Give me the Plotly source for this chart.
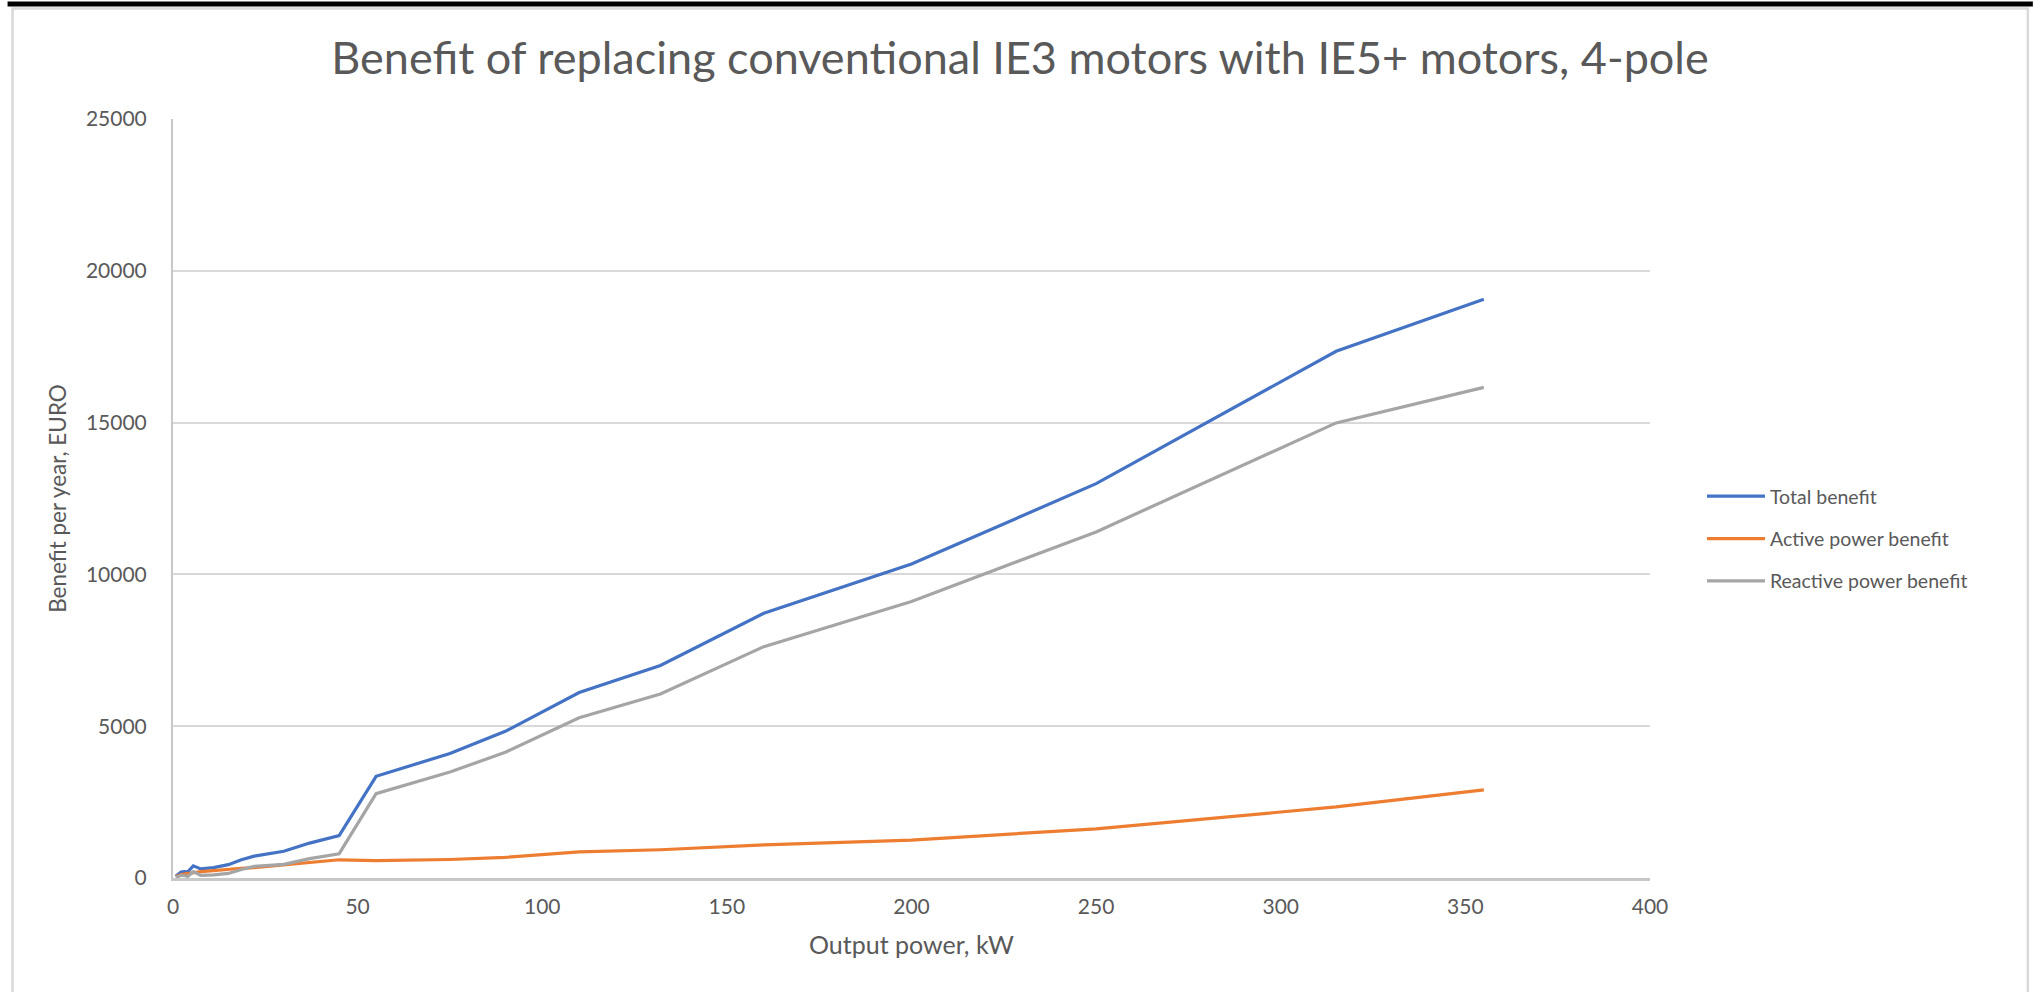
import plotly.graph_objects as go

# ---- data ----
power_kw = [0.75, 1.1, 1.5, 2.2, 3, 4, 5.5, 7.5, 11, 15, 18.5, 22, 30, 37, 45,
            55, 75, 90, 110, 132, 160, 200, 250, 315, 355]
total_benefit = [60, 100, 140, 200, 210, 200, 400, 300, 340, 440, 600, 720, 880, 1150, 1400,
                 3350, 4100, 4830, 6110, 7000, 8720, 10340, 12990, 17350, 19060]
active_benefit = [40, 60, 80, 110, 130, 150, 190, 210, 240, 290, 320, 340, 430, 510, 600,
                  570, 610, 680, 860, 930, 1090, 1250, 1620, 2340, 2900]
reactive_benefit = [20, 40, 60, 90, 80, 50, 210, 90, 100, 150, 280, 380, 450, 640, 800,
                    2780, 3490, 4140, 5280, 6060, 7620, 9110, 11400, 14990, 16160]

series_names = ["Total benefit", "Active power benefit", "Reactive power benefit"]
series_values = [total_benefit, active_benefit, reactive_benefit]
series_colors = ["#4472C4", "#ED7D31", "#A5A5A5"]

title_text = "Benefit of replacing conventional IE3 motors with IE5+ motors, 4-pole"
x_title = "Output power, kW"
y_title = "Benefit per year, EURO"
x_ticks = [0, 50, 100, 150, 200, 250, 300, 350, 400]
y_ticks = [0, 5000, 10000, 15000, 20000, 25000]

# ---- layout geometry (pixels) ----
W, H = 2037, 992
L, R, T, B = 172.5, 1650, 119, 878
PW, PH = R - L, B - T

def px(x):
    return (x - L) / PW

def py(y):
    return (B - y) / PH

FONT = "Lato, 'Open Sans', sans-serif"
TXT = "#595959"

fig = go.Figure()
for i, (name, vals, col) in enumerate(zip(series_names, series_values, series_colors)):
    fig.add_trace(go.Scatter(
        x=power_kw, y=vals, name=name, mode="lines",
        line=dict(color=col, width=3.2),
        legendgroup=f"g{i}",
    ))

fig.update_layout(
    width=W, height=H,
    margin=dict(l=L, r=W - R, t=T, b=H - B, pad=0),
    paper_bgcolor="white", plot_bgcolor="white",
    font=dict(family=FONT, color=TXT, size=21),
    title=dict(text=title_text, x=1020 / W, xref="container", xanchor="center",
               y=1 - 58 / H, yref="container", yanchor="middle",
               font=dict(family=FONT, size=45, color=TXT)),
    showlegend=True,
    legend=dict(x=px(1702), y=py(539), xanchor="left", yanchor="middle",
                font=dict(family=FONT, size=19.5, color=TXT), itemwidth=58,
                tracegroupgap=14, bgcolor="rgba(0,0,0,0)"),
    xaxis=dict(range=[0, 400], tickvals=x_ticks, showgrid=False, zeroline=False,
               showline=True, linecolor="#C8C8C8", linewidth=2.5, ticks="",
               tickfont=dict(size=21, color=TXT), ticklabelstandoff=8,
               title=dict(text=x_title, standoff=20, font=dict(size=25, color=TXT))),
    yaxis=dict(range=[0, 25000], tickvals=y_ticks, tickformat="d", showgrid=True,
               gridcolor="#D9D9D9", gridwidth=1.8, zeroline=False,
               showline=True, linecolor="#C8C8C8", linewidth=2, ticks="",
               tickfont=dict(size=21, color=TXT), ticklabelstandoff=20,
               title=dict(text=y_title, standoff=13, font=dict(size=22.5, color=TXT))),
    shapes=[
        # outer chart frame
        dict(type="rect", xref="paper", yref="paper",
             x0=px(12), x1=px(2028), y0=py(1000), y1=py(8.5),
             line=dict(color="#D9D9D9", width=2.5), fillcolor="rgba(0,0,0,0)", layer="below"),
        # black band at top
        dict(type="rect", xref="paper", yref="paper",
             x0=px(7), x1=px(2033), y0=py(6.5), y1=py(1.5),
             line=dict(width=0), fillcolor="black"),
    ],
)

fig.write_html("out.html", config={"displayModeBar": False},
               post_script="document.body.style.margin='0';document.body.style.overflow='hidden';")
